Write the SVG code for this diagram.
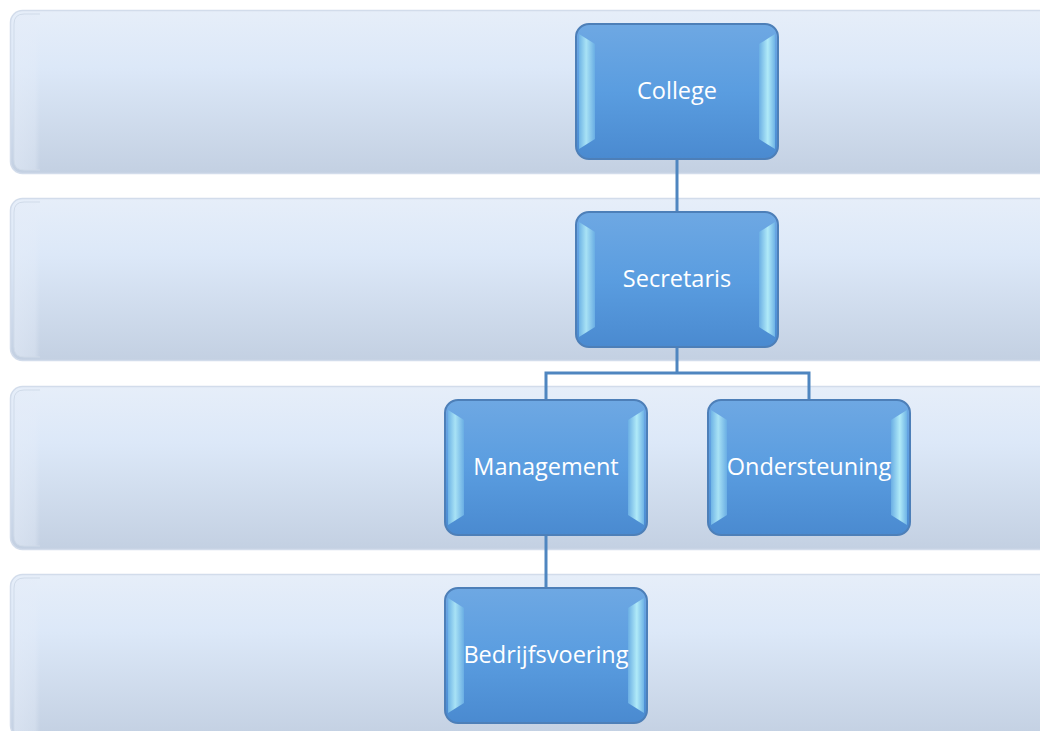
<svg xmlns="http://www.w3.org/2000/svg" width="1040" height="731" viewBox="0 0 1040 731">
<defs>
<linearGradient id="bandG" x1="0" y1="0" x2="0" y2="1">
<stop offset="0" stop-color="#e6eef9"/>
<stop offset="0.35" stop-color="#dce8f8"/>
<stop offset="1" stop-color="#c3d0e2"/>
</linearGradient>
<linearGradient id="bandL" x1="0" y1="0" x2="1" y2="0">
<stop offset="0" stop-color="#e4ecf8" stop-opacity="0.6"/>
<stop offset="0.8" stop-color="#e4ecf8" stop-opacity="0.4"/>
<stop offset="1" stop-color="#e4ecf8" stop-opacity="0"/>
</linearGradient>
<linearGradient id="nodeG" x1="0" y1="0" x2="0" y2="1">
<stop offset="0" stop-color="#6ea8e3"/>
<stop offset="0.5" stop-color="#5a9de0"/>
<stop offset="1" stop-color="#4a8ad0"/>
</linearGradient>
<linearGradient id="sideL" x1="0" y1="0" x2="1" y2="0">
<stop offset="0" stop-color="#6fb4e6"/>
<stop offset="0.45" stop-color="#a8e2f5"/>
<stop offset="1" stop-color="#6aaee4"/>
</linearGradient>
<linearGradient id="sideR" x1="0" y1="0" x2="1" y2="0">
<stop offset="0" stop-color="#6aaee4"/>
<stop offset="0.55" stop-color="#b0eaf8"/>
<stop offset="1" stop-color="#6fb4e6"/>
</linearGradient>
</defs>
<style>
.band{fill:url(#bandG);stroke:#d2dceb;stroke-width:1.5}
.bandl{fill:url(#bandL)}
.bande{fill:none;stroke:#d0dbe9;stroke-width:1}
.box{fill:url(#nodeG);stroke:#4d7fb8;stroke-width:2}
.sl{fill:url(#sideL)}
.sr{fill:url(#sideR)}
.lbl{font-family:"Open Sans","Liberation Sans",sans-serif;font-size:23.5px;fill:#ffffff;text-anchor:middle}
.con{fill:none;stroke:#4f86c0;stroke-width:3}
</style>
<rect width="1040" height="731" fill="#ffffff"/>
<g id="bands">
<rect class="band" x="10.5" y="10.5" width="1040" height="163" rx="12"/>
<path class="bandl" d="M40,14 L24,14 Q14,14 14,24 L14,160 Q14,170 24,170 L40,170 Z"/>
<path class="bande" d="M40,14 L24,14 Q14,14 14,24 L14,160 Q14,170 24,170 L40,170"/>
<rect class="band" x="10.5" y="198.5" width="1040" height="162" rx="12"/>
<path class="bandl" d="M40,202 L24,202 Q14,202 14,212 L14,347 Q14,357 24,357 L40,357 Z"/>
<path class="bande" d="M40,202 L24,202 Q14,202 14,212 L14,347 Q14,357 24,357 L40,357"/>
<rect class="band" x="10.5" y="386.5" width="1040" height="163" rx="12"/>
<path class="bandl" d="M40,390 L24,390 Q14,390 14,400 L14,536 Q14,546 24,546 L40,546 Z"/>
<path class="bande" d="M40,390 L24,390 Q14,390 14,400 L14,536 Q14,546 24,546 L40,546"/>
<rect class="band" x="10.5" y="574.5" width="1040" height="163" rx="12"/>
<path class="bandl" d="M40,578 L24,578 Q14,578 14,588 L14,731 L40,731 Z"/>
<path class="bande" d="M40,578 L24,578 Q14,578 14,588 L14,731"/>
</g>
<g id="connectors">
<line class="con" x1="677" y1="159" x2="677" y2="211"/>
<polyline class="con" points="677,347 677,373"/>
<polyline class="con" points="546,399 546,373 809,373 809,399"/>
<line class="con" x1="546" y1="535" x2="546" y2="587"/>
</g>
<g id="node-college">
<rect class="box" x="576" y="24" width="202" height="135" rx="13"/>
<polygon class="sl" points="579,34 595,44 595,139 579,149"/>
<polygon class="sr" points="775,34 759,44 759,139 775,149"/>
<text class="lbl" x="677" y="99">College</text>
</g>
<g id="node-secretaris">
<rect class="box" x="576" y="212" width="202" height="135" rx="13"/>
<polygon class="sl" points="579,222 595,232 595,327 579,337"/>
<polygon class="sr" points="775,222 759,232 759,327 775,337"/>
<text class="lbl" x="677" y="287">Secretaris</text>
</g>
<g id="node-management">
<rect class="box" x="445" y="400" width="202" height="135" rx="13"/>
<polygon class="sl" points="448,410 464,420 464,515 448,525"/>
<polygon class="sr" points="644,410 628,420 628,515 644,525"/>
<text class="lbl" x="546" y="475">Management</text>
</g>
<g id="node-ondersteuning">
<rect class="box" x="708" y="400" width="202" height="135" rx="13"/>
<polygon class="sl" points="711,410 727,420 727,515 711,525"/>
<polygon class="sr" points="907,410 891,420 891,515 907,525"/>
<text class="lbl" x="809" y="475">Ondersteuning</text>
</g>
<g id="node-bedrijfsvoering">
<rect class="box" x="445" y="588" width="202" height="135" rx="13"/>
<polygon class="sl" points="448,598 464,608 464,703 448,713"/>
<polygon class="sr" points="644,598 628,608 628,703 644,713"/>
<text class="lbl" x="546" y="663">Bedrijfsvoering</text>
</g>
</svg>
